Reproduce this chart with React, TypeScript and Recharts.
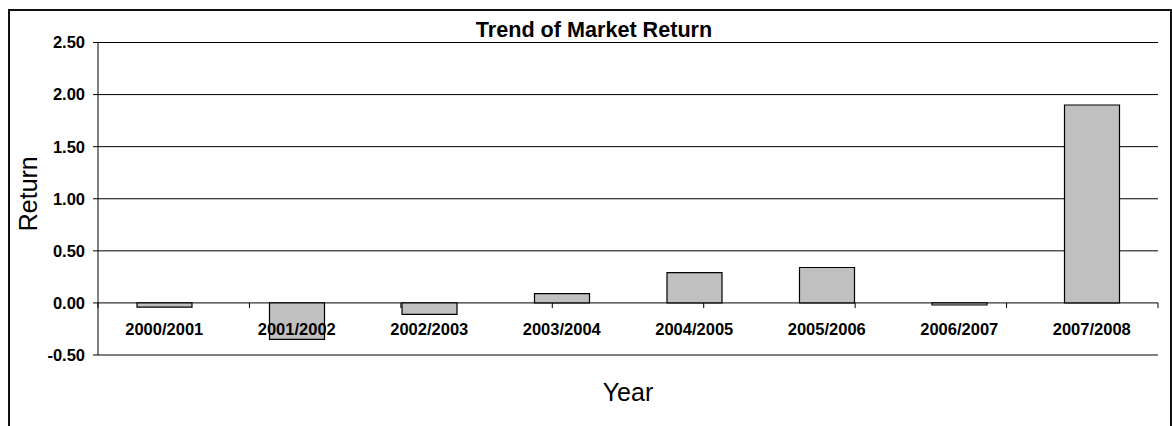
import React from 'react';
import {
  BarChart,
  Bar,
  XAxis,
  YAxis,
  CartesianGrid,
  ReferenceLine,
  Customized,
} from 'recharts';

const years = [
  '2000/2001',
  '2001/2002',
  '2002/2003',
  '2003/2004',
  '2004/2005',
  '2005/2006',
  '2006/2007',
  '2007/2008',
];
const returns = [-0.04, -0.35, -0.11, 0.09, 0.29, 0.34, -0.02, 1.9];
const yTicks = [-0.5, 0, 0.5, 1, 1.5, 2, 2.5];
// boundaries between categories, where the tick marks on the zero line sit
const boundaries = [0, 1, 2, 3, 4, 5, 6, 7, 8];

const data = years.map((year, i) => ({ year, value: returns[i] }));

const FONT = '"Liberation Sans", Arial, Helvetica, sans-serif';

function CategoryTick({ x, y, payload }: any) {
  return (
    <text
      x={x}
      y={y - 20}
      textAnchor="middle"
      fontFamily={FONT}
      fontSize={16.5}
      fontWeight="bold"
      fill="#000"
    >
      {payload.value}
    </text>
  );
}

export default function App() {
  return (
    <div style={{ position: 'absolute', left: 0, top: 0, width: 1172, height: 426 }}>
      <div
        style={{
          position: 'absolute',
          left: 8,
          top: 9,
          width: 1164,
          height: 417,
          boxSizing: 'border-box',
          borderTop: '2.5px solid #111',
          borderLeft: '2.5px solid #111',
          borderRight: '2.5px solid #111',
        }}
      />
      <div style={{ position: 'absolute', left: 0, top: 0 }}>
        <BarChart
          width={1172}
          height={426}
          data={data}
          margin={{ top: 42.5, right: 14, left: 38, bottom: 41 }}
        >
          <CartesianGrid vertical={false} stroke="#000" strokeWidth={1} />
          <XAxis
            dataKey="year"
            axisLine={false}
            tickLine={false}
            tickSize={0}
            tickMargin={0}
            height={30}
            interval={0}
            tick={<CategoryTick />}
            label={{
              content: ({ viewBox }: any) => (
                <text
                  x={viewBox.x + viewBox.width / 2}
                  y={viewBox.y + 46}
                  textAnchor="middle"
                  fontFamily={FONT}
                  fontSize={25}
                  fill="#000"
                >
                  Year
                </text>
              ),
            }}
          />
          <XAxis xAxisId="n" type="number" domain={[0, 8]} hide />
          <YAxis
            domain={[-0.5, 2.5]}
            ticks={yTicks}
            interval={0}
            width={60}
            tickSize={5}
            tickMargin={8}
            axisLine={{ stroke: '#000' }}
            tickLine={{ stroke: '#000' }}
            tickFormatter={(v: number) => v.toFixed(2)}
            tick={{ fill: '#000', fontSize: 16.5, fontWeight: 'bold', fontFamily: FONT }}
            label={{
              content: ({ viewBox }: any) => {
                const cy = viewBox.y + viewBox.height / 2 - 5;
                return (
                  <text
                    x={28}
                    y={cy}
                    transform={`rotate(-90, 28, ${cy})`}
                    textAnchor="middle"
                    dominantBaseline="central"
                    fontFamily={FONT}
                    fontSize={25}
                    fill="#000"
                  >
                    Return
                  </text>
                );
              },
            }}
          />
          {boundaries.map((b) => (
            <ReferenceLine
              key={b}
              xAxisId="n"
              segment={[
                { x: b, y: 0 },
                { x: b, y: -0.05 },
              ]}
              stroke="#000"
              strokeWidth={1}
              ifOverflow="visible"
            />
          ))}
          <Bar
            dataKey="value"
            fill="#C0C0C0"
            stroke="#000"
            strokeWidth={1.2}
            barSize={55}
            isAnimationActive={false}
          />
          <Customized
            component={() => (
              <text
                x={594}
                y={36.5}
                textAnchor="middle"
                fontFamily={FONT}
                fontSize={21.6}
                fontWeight="bold"
                fill="#000"
              >
                Trend of Market Return
              </text>
            )}
          />
        </BarChart>
      </div>
    </div>
  );
}
